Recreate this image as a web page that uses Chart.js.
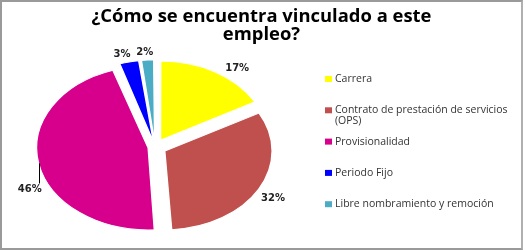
<!DOCTYPE html>
<html>
<head>
<meta charset="utf-8">
<script src="https://cdn.jsdelivr.net/npm/chart.js@4/dist/chart.umd.min.js"></script>
<style>
  html, body { margin: 0; padding: 0; background: #fff; }
  #wrap { position: relative; width: 525px; height: 250px; }
  #frame { position: absolute; left: 0; top: 0; width: 519px; height: 246px; border: 2px solid #9a9a9a; border-right-color: #b0b0b0; pointer-events: none; }
</style>
</head>
<body>
<div id="wrap">
  <canvas id="pieChart"></canvas>
  <div id="frame"></div>
</div>
<script>
// タイトル
const titleLines = ['¿Cómo se encuentra vinculado a este', 'empleo?'];
// カテゴリ
const categories = ['Carrera', 'Contrato de prestación de servicios (OPS)', 'Provisionalidad', 'Periodo Fijo', 'Libre nombramiento y remoción'];
// 割合 (%)
const values = [17, 32, 46, 3, 2];
// 色
const colors = ['#FFFF00', '#C0504D', '#D6008C', '#0000FF', '#4BACC6'];
// ラベル角度の微調整 (度)
const labelNudge = [7, 2, -14, -2, -1];

const stretchX = 1.361;  // 楕円に見せるための横倍率
const explode = 9;       // 見た目の切り出し量 (px)
const total = values.reduce((a, b) => a + b, 0);

const canvas = document.getElementById('pieChart');
const ctx = canvas.getContext('2d');

// Chart.js の arc は offset/4 + 補正分だけずれるので、見た目が均一になるよう逆算
function sliceOffset(c) {
  const circ = c.parsed / total * Math.PI * 2;
  return explode / (0.25 * (2 - Math.sin(Math.min(Math.PI, circ))));
}

// 横に引き伸ばしてパイを描く
const stretchPlugin = {
  id: 'stretch',
  beforeDatasetsDraw(chart) {
    const arc = chart.getDatasetMeta(0).data[0];
    const c = chart.ctx;
    c.save();
    c.translate(arc.x, arc.y);
    c.scale(stretchX, 1);
    c.translate(-arc.x, -arc.y);
  },
  afterDatasetsDraw(chart) {
    chart.ctx.restore();
  }
};

// タイトル・データラベル・凡例
const decorPlugin = {
  id: 'decor',
  afterDraw(chart) {
    const c = chart.ctx;
    const meta = chart.getDatasetMeta(0);

    // タイトル（元画像と同じく少し横長に）
    c.save();
    c.fillStyle = '#000';
    c.font = 'bold 17px "Open Sans", sans-serif';
    c.textAlign = 'center';
    c.textBaseline = 'alphabetic';
    const tw = c.measureText(titleLines[0]).width;
    c.translate(261.5, 0);
    c.scale(340 / tw, 1);
    titleLines.forEach((t, i) => c.fillText(t, 0, 21.7 + i * 17.8));
    c.restore();

    // データラベル
    c.save();
    c.font = 'bold 10px "DejaVu Sans", sans-serif';
    c.fillStyle = '#222';
    c.textAlign = 'center';
    c.textBaseline = 'middle';
    meta.data.forEach((arc, i) => {
      const p = arc.getProps(['x', 'y', 'startAngle', 'endAngle', 'outerRadius']);
      const mid = (p.startAngle + p.endAngle) / 2;
      const ang = mid + labelNudge[i] * Math.PI / 180;
      const edge = p.outerRadius + explode;
      const r = edge + 7 + Math.abs(Math.cos(ang)) * 8;
      const lx = p.x + Math.cos(ang) * r * stretchX;
      const ly = p.y + Math.sin(ang) * r;
      c.fillText(values[i] + '%', lx, ly);
      if (Math.abs(labelNudge[i]) > 10) {
        // 引き出し線
        const ex = p.x + Math.cos(mid) * edge * stretchX;
        const ey = p.y + Math.sin(mid) * edge;
        c.strokeStyle = '#000';
        c.lineWidth = 1;
        c.beginPath();
        c.moveTo(Math.round(ex) + 0.5, ey);
        c.lineTo(Math.round(ex) + 0.5, ly - 6);
        c.stroke();
      }
    });
    c.restore();

    // 凡例
    c.save();
    c.font = '10.5px "Open Sans", sans-serif';
    c.textBaseline = 'middle';
    const maxW = 180;
    categories.forEach((name, i) => {
      const y = 79 + i * 31.3;
      c.fillStyle = colors[i];
      c.fillRect(325, y - 3, 7, 6);
      c.fillStyle = '#333';
      const words = name.split(' ');
      let line = '';
      let yy = y;
      words.forEach(w => {
        const test = line ? line + ' ' + w : w;
        if (c.measureText(test).width > maxW && line) {
          c.fillText(line, 335, yy);
          line = w;
          yy += 11;
        } else {
          line = test;
        }
      });
      c.fillText(line, 335, yy);
    });
    c.restore();
  }
};

new Chart(ctx, {
  type: 'pie',
  data: {
    labels: categories,
    datasets: [{
      data: values,
      backgroundColor: colors,
      borderColor: '#fff',
      borderWidth: 1,
      offset: sliceOffset
    }]
  },
  options: {
    responsive: true,
    maintainAspectRatio: false,
    animation: false,
    layout: {
      padding: { left: 60, right: 275, top: 52, bottom: 8 }
    },
    plugins: {
      legend: { display: false },
      tooltip: { enabled: false },
      title: { display: false }
    }
  },
  plugins: [stretchPlugin, decorPlugin]
});
</script>
</body>
</html>
